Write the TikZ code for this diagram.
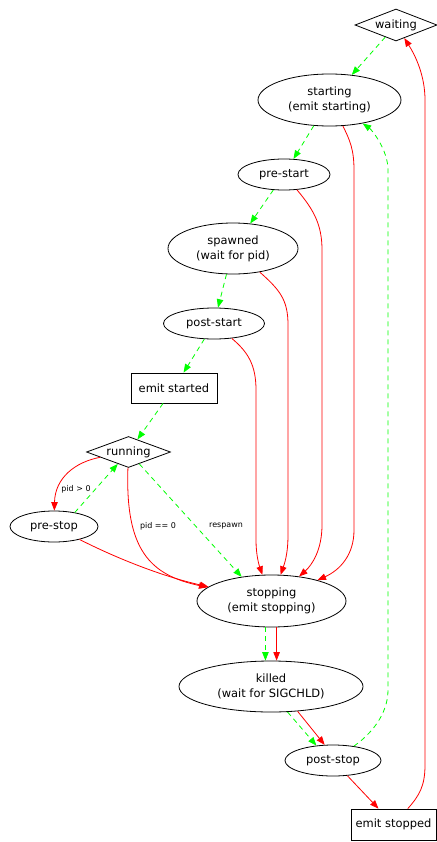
\documentclass[tikz,border=0pt]{standalone}
\usepackage{fontspec}
\setmainfont{DejaVu Sans}
\usetikzlibrary{shapes.geometric,arrows.meta}
\definecolor{gvred}{RGB}{255,0,0}
\definecolor{gvgreen}{RGB}{0,255,0}
\tikzset{
  base/.style={draw=black, line width=0.8bp, inner sep=0pt, align=center, font=\fontsize{11.5}{15}\selectfont},
  ell/.style={base, ellipse},
  dia/.style={base, diamond, aspect=2.7},
  box/.style={base, rectangle},
  tipstyle/.style={-{Triangle[length=8.5bp,width=6.5bp]}},
  redge/.style={draw=gvred, line width=0.8bp, tipstyle},
  gedge/.style={draw=gvgreen, line width=0.8bp, dash pattern=on 5bp off 4bp, tipstyle},
  lbl/.style={font=\fontsize{8}{10}\selectfont, inner sep=0pt, text=black}
}
\begin{document}
\begin{tikzpicture}[x=1bp,y=-1bp]
\useasboundingbox (0,0) rectangle (437,842);
% nodes
\node[dia, minimum width=82bp, minimum height=32bp] (waiting) at (396,25) {waiting};
\node[ell, minimum width=143bp, minimum height=52bp] (starting) at (329.5,100) {starting\\(emit starting)};
\node[ell, minimum width=92bp, minimum height=31bp] (prestart) at (284,174.5) {pre-start};
\node[ell, minimum width=130bp, minimum height=51bp] (spawned) at (233,248.5) {spawned\\(wait for pid)};
\node[ell, minimum width=101bp, minimum height=31bp] (poststart) at (214,323.5) {post-start};
\node[box, minimum width=86bp, minimum height=30bp] (started) at (174,388) {emit started};
\node[dia, minimum width=84bp, minimum height=31bp] (running) at (128.5,452) {running};
\node[ell, minimum width=88bp, minimum height=31bp] (prestop) at (54,526.5) {pre-stop};
\node[ell, minimum width=149bp, minimum height=52bp] (stopping) at (271.5,601) {stopping\\(emit stopping)};
\node[ell, minimum width=184bp, minimum height=51bp] (killed) at (271,686.5) {killed\\(wait for SIGCHLD)};
\node[ell, minimum width=96bp, minimum height=31bp] (poststop) at (333,760.5) {post-stop};
\node[box, minimum width=85bp, minimum height=31bp] (stopped) at (393.5,824.5) {emit stopped};
% labels
\node[lbl] (l1) at (76,489) {pid > 0};
\node[lbl] (l2) at (158,526) {pid == 0};
\node[lbl] (l3) at (226,526) {respawn};
% green chain
\draw[gedge] (waiting) -- (starting);
\draw[gedge] (starting) -- (prestart);
\draw[gedge] (prestart) -- (spawned);
\draw[gedge] (spawned) -- (poststart);
\draw[gedge] (poststart) -- (started);
\draw[gedge] (started) -- (running);
% red to stopping
\draw[redge] (starting) .. controls (350,140) and (354,150) .. (354,170) -- (354,530) .. controls (354,555) and (340,570) .. (stopping);
\draw[redge] (prestart) .. controls (314,210) and (322,225) .. (322,250) -- (322,525) .. controls (322,550) and (312,565) .. (stopping);
\draw[redge] (spawned) .. controls (280,290) and (288,300) .. (288,325) -- (288,535) .. controls (288,555) and (284,565) .. (stopping);
\draw[redge] (poststart) .. controls (248,352) and (256,365) .. (256,390) -- (256,540) .. controls (256,555) and (259,565) .. (stopping);
% running region
\draw[redge] (running) .. controls (75,462) and (55,478) .. (prestop);
\draw[gedge] (prestop.34) -- (running.-132);
\draw[redge] (running) .. controls (125,550) and (150,575) .. (stopping);
\draw[gedge] (running) -- (stopping.141);
\draw[redge] (prestop) .. controls (120,560) and (165,577) .. (stopping);
% lower chain
\draw[gedge] (stopping.-103) -- (stopping.-103 |- killed.north);
\draw[redge] (stopping.-79) -- (stopping.-79 |- killed.north);
\draw[gedge] (killed.-57) -- (poststop.138);
\draw[redge] (killed.-43) -- (poststop.118);
\draw[redge] (poststop) -- (stopped);
% loops back
\draw[gedge] (poststop) .. controls (370,735) and (388,715) .. (388,690) -- (388,170) .. controls (388,150) and (372,130) .. (starting);
\draw[redge] (stopped) .. controls (420,795) and (425,785) .. (425,765) -- (425,100) .. controls (425,75) and (415,55) .. (waiting);
\end{tikzpicture}
\end{document}
